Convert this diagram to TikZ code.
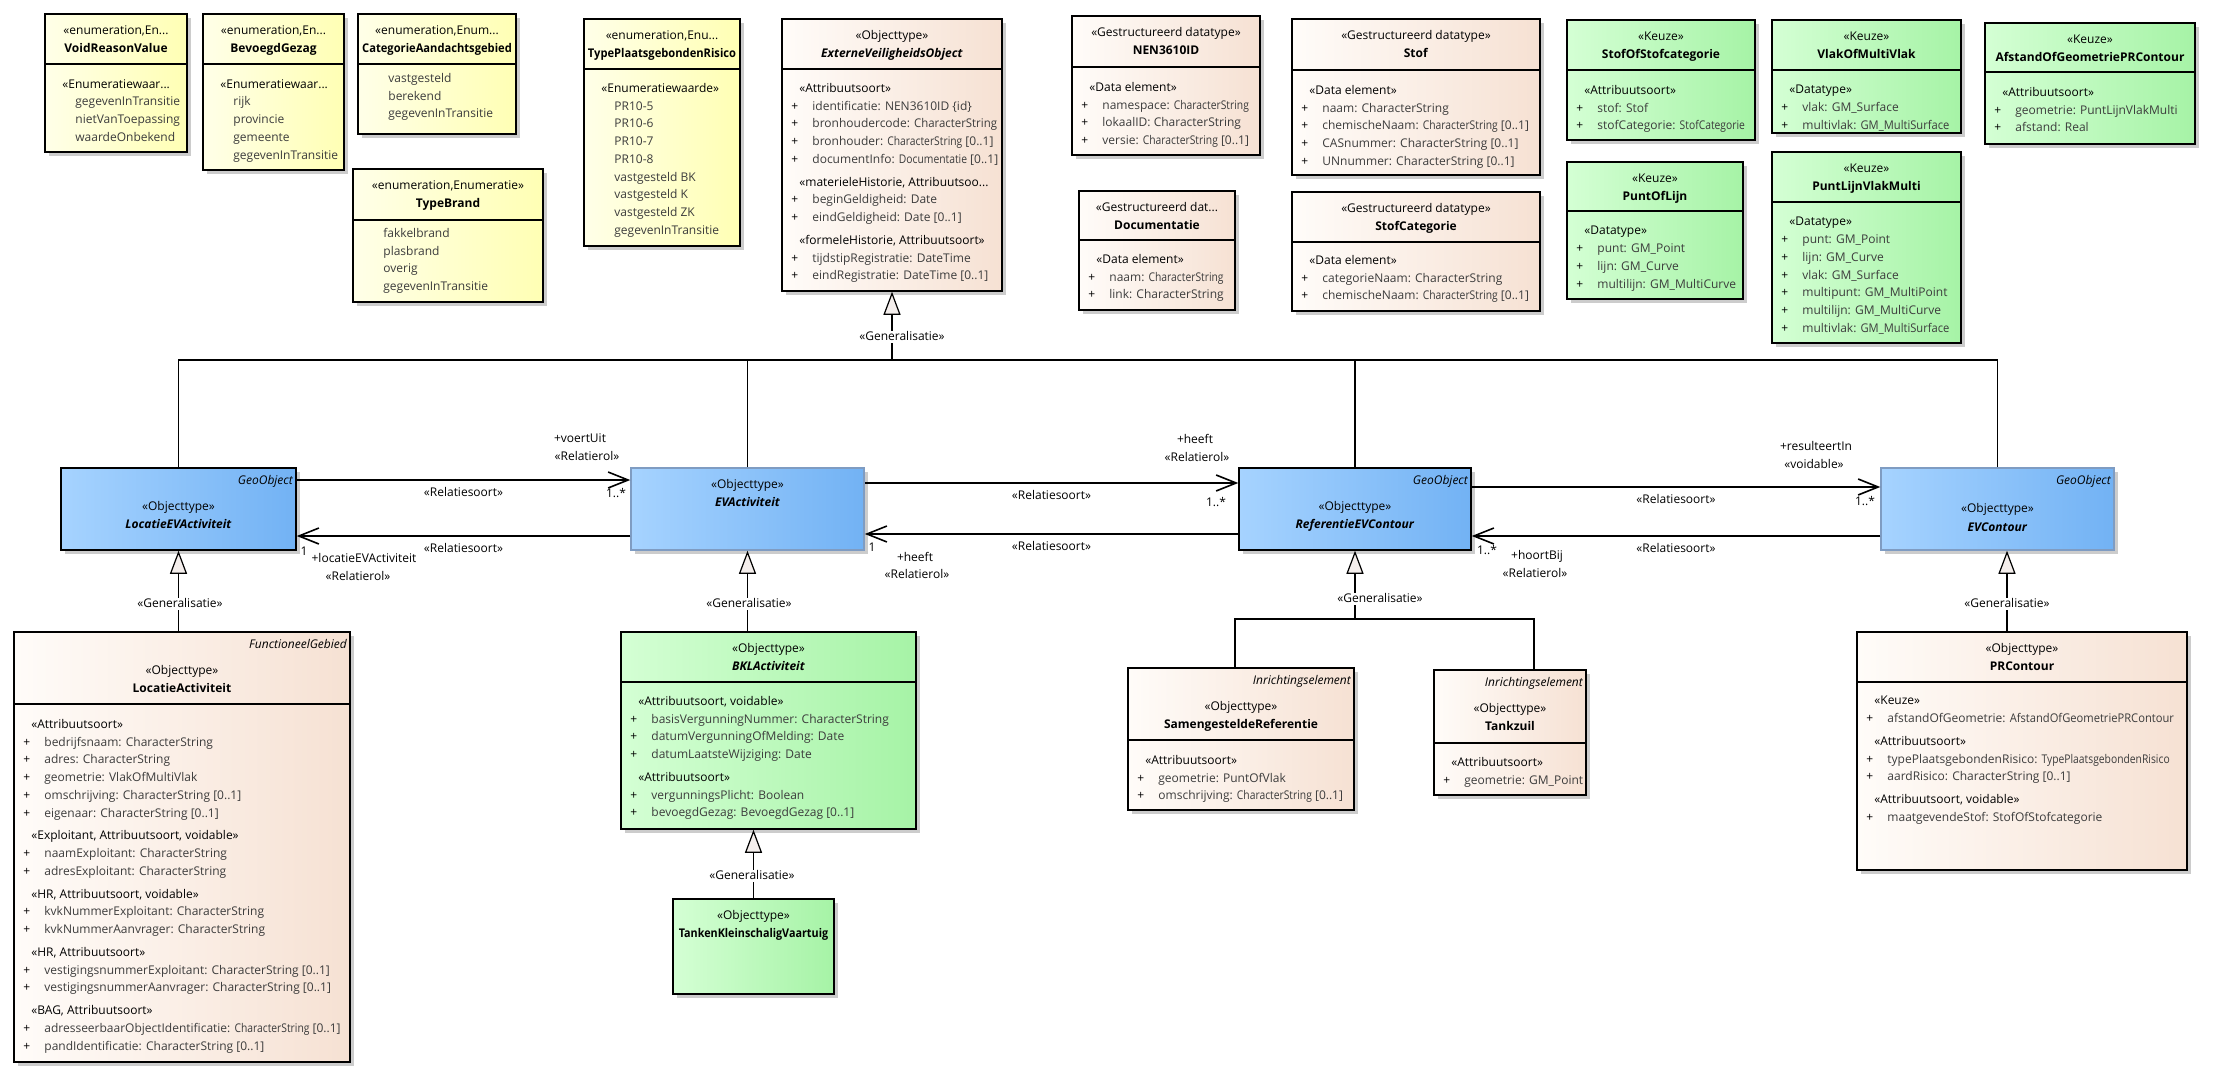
\documentclass[tikz,border=0pt]{standalone}
\usepackage{fontspec}
\setmainfont{Open Sans}
\usepackage{graphicx}
\usetikzlibrary{positioning,arrows.meta,fit,shadows}

\definecolor{enumL}{HTML}{FFFFE8}
\definecolor{enumR}{HTML}{FFFFB4}
\definecolor{creamL}{HTML}{FFFCF9}
\definecolor{creamR}{HTML}{F6E1D3}
\definecolor{greenL}{HTML}{D4FFD4}
\definecolor{greenR}{HTML}{A6F3A6}
\definecolor{blueL}{HTML}{A6D3FF}
\definecolor{blueR}{HTML}{72B2F4}
\definecolor{blueEdge}{HTML}{7F9CC2}
\definecolor{attrgrey}{HTML}{3C3C3C}
\definecolor{trifill}{HTML}{F4EEEC}

\newcommand{\tfont}{\fontsize{6}{8.85}\selectfont}
\newcommand{\pls}{\makebox[10.5pt][l]{\textcolor{black}{+}}}
\newcommand{\nopls}{\hspace*{10.5pt}}
\newcommand{\ster}[1]{\hspace*{4pt}\textcolor{black}{#1}}
\newcommand{\sq}[2][0.86]{\scalebox{#1}[1]{#2}}

\begin{document}
\begin{tikzpicture}[
  x=0.5pt, y=-0.5pt, every node/.style={font=\tfont},
  cls/.style={draw, line width=.75pt, inner sep=0pt,
    drop shadow={shadow xshift=2pt, shadow yshift=-2pt, fill=black!20, opacity=1}},
  enum/.style={cls, left color=enumL, right color=enumR},
  dtype/.style={cls, left color=creamL, right color=creamR},
  keuze/.style={cls, left color=greenL, right color=greenR},
  geo/.style={cls, left color=blueL, right color=blueR},
  sepline/.style={line width=.75pt},
  hdr/.style={inner sep=0pt, text height=4.6pt, text depth=1.2pt},
  tag/.style={hdr, font=\tfont\itshape},
  body/.style={anchor=north west, inner sep=0pt, align=left, text=attrgrey},
  lbl/.style={hdr},
  glbl/.style={hdr, fill=white, inner xsep=1pt},
  genline/.style={line width=.6pt},
  gen/.style={genline, -{Triangle[length=11.5pt, width=8.5pt, fill=trifill]}},
  assoc/.style={line width=.8pt, -{Straight Barb[length=10pt, width=8pt]}}
]
\fill[white] (0,0) rectangle (2218,1081);
\useasboundingbox (0,0) rectangle (2218,1081);

% enumeraties
\node[enum, fit={(45,14)(187,152)}] (vrv) {};
\draw[sepline] (vrv.west |- 0,64) -- (vrv.east |- 0,64);
\node[hdr, below=5.6pt of vrv.north] (vrvst) {«enumeration,En...};
\node[hdr, below=3pt of vrvst] (vrvnm) {\textbf{VoidReasonValue}};
\node[body] (vrvat) at (54,79) {\ster{«Enumeratiewaar...}\\ \nopls gegevenInTransitie\\
  \nopls nietVanToepassing\\ \nopls waardeOnbekend};

\node[enum, fit={(203,14)(344,170)}] (bg) {};
\draw[sepline] (bg.west |- 0,64) -- (bg.east |- 0,64);
\node[hdr, below=5.6pt of bg.north] (bgst) {«enumeration,En...};
\node[hdr, below=3pt of bgst] (bgnm) {\textbf{BevoegdGezag}};
\node[body] (bgat) at (212,79) {\ster{«Enumeratiewaar...}\\ \nopls rijk\\ \nopls provincie\\
  \nopls gemeente\\ \nopls gegevenInTransitie};

\node[enum, fit={(358,14)(516,134)}] (cag) {};
\draw[sepline] (cag.west |- 0,64) -- (cag.east |- 0,64);
\node[hdr, below=5.6pt of cag.north] (cagst) {«enumeration,Enum...};
\node[hdr, below=3pt of cagst] (cagnm) {\sq[0.93]{\textbf{CategorieAandachtsgebied}}};
\node[body] (cagat) at (367,73) {\nopls vastgesteld\\ \nopls berekend\\ \nopls gegevenInTransitie};

\node[enum, fit={(353,169)(543,302)}] (tb) {};
\draw[sepline] (tb.west |- 0,220) -- (tb.east |- 0,220);
\node[hdr, below=5.6pt of tb.north] (tbst) {«enumeration,Enumeratie»};
\node[hdr, below=3pt of tbst] (tbnm) {\textbf{TypeBrand}};
\node[body] (tbat) at (362,228) {\nopls fakkelbrand\\ \nopls plasbrand\\ \nopls overig\\
  \nopls gegevenInTransitie};

\node[enum, fit={(584,19)(740,246)}] (tpr) {};
\draw[sepline] (tpr.west |- 0,69) -- (tpr.east |- 0,69);
\node[hdr, below=5.6pt of tpr.north] (tprst) {«enumeration,Enu...};
\node[hdr, below=3pt of tprst] (tprnm) {\sq[0.93]{\textbf{TypePlaatsgebondenRisico}}};
\node[body] (tprat) at (593,83) {\ster{«Enumeratiewaarde»}\\ \nopls PR10-5\\ \nopls PR10-6\\
  \nopls PR10-7\\ \nopls PR10-8\\ \nopls vastgesteld BK\\ \nopls vastgesteld K\\
  \nopls vastgesteld ZK\\ \nopls gegevenInTransitie};

% objecttype bovenaan
\node[dtype, fit={(782,19)(1002,291)}] (evo) {};
\draw[sepline] (evo.west |- 0,69) -- (evo.east |- 0,69);
\node[hdr, below=5.6pt of evo.north] (evost) {«Objecttype»};
\node[hdr, below=3pt of evost] (evonm) {\textbf{\textit{ExterneVeiligheidsObject}}};
\node[body] (evoat) at (791,83) {\ster{«Attribuutsoort»}\\
  \pls identificatie: NEN3610ID \{id\}\\
  \pls bronhoudercode: \sq[0.95]{CharacterString}\\
  \pls bronhouder: \sq{CharacterString} [0..1]\\
  \pls documentInfo: \sq{Documentatie} [0..1]\\[2.6pt]
  \ster{«materieleHistorie, Attribuutsoo...}\\
  \pls beginGeldigheid: Date\\
  \pls eindGeldigheid: Date [0..1]\\[2.6pt]
  \ster{«formeleHistorie, Attribuutsoort»}\\
  \pls tijdstipRegistratie: DateTime\\
  \pls eindRegistratie: DateTime [0..1]};

% gestructureerde datatypes
\node[dtype, fit={(1072,16)(1260,155)}] (nen) {};
\draw[sepline] (nen.west |- 0,67) -- (nen.east |- 0,67);
\node[hdr, below=5.6pt of nen.north] (nenst) {«Gestructureerd datatype»};
\node[hdr, below=3pt of nenst] (nennm) {\textbf{NEN3610ID}};
\node[body] (nenat) at (1081,82) {\ster{«Data element»}\\ \pls namespace: \sq{CharacterString}\\
  \pls lokaalID: CharacterString\\ \pls versie: \sq{CharacterString} [0..1]};

\node[dtype, fit={(1292,19)(1540,175)}] (stof) {};
\draw[sepline] (stof.west |- 0,70) -- (stof.east |- 0,70);
\node[hdr, below=5.6pt of stof.north] (stofst) {«Gestructureerd datatype»};
\node[hdr, below=3pt of stofst] (stofnm) {\textbf{Stof}};
\node[body] (stofat) at (1301,85) {\ster{«Data element»}\\ \pls naam: CharacterString\\
  \pls chemischeNaam: \sq{CharacterString} [0..1]\\ \pls CASnummer: CharacterString [0..1]\\
  \pls UNnummer: CharacterString [0..1]};

\node[dtype, fit={(1079,191)(1235,310)}] (doc) {};
\draw[sepline] (doc.west |- 0,240) -- (doc.east |- 0,240);
\node[hdr, below=5.6pt of doc.north] (docst) {«Gestructureerd dat...};
\node[hdr, below=3pt of docst] (docnm) {\textbf{Documentatie}};
\node[body] (docat) at (1088,254) {\ster{«Data element»}\\ \pls naam: \sq{CharacterString}\\
  \pls link: CharacterString};

\node[dtype, fit={(1292,192)(1540,311)}] (stc) {};
\draw[sepline] (stc.west |- 0,242) -- (stc.east |- 0,242);
\node[hdr, below=5.6pt of stc.north] (stcst) {«Gestructureerd datatype»};
\node[hdr, below=3pt of stcst] (stcnm) {\textbf{StofCategorie}};
\node[body] (stcat) at (1301,255) {\ster{«Data element»}\\ \pls categorieNaam: CharacterString\\
  \pls chemischeNaam: \sq{CharacterString} [0..1]};

% keuzes
\node[keuze, fit={(1567,20)(1755,140)}] (sos) {};
\draw[sepline] (sos.west |- 0,70) -- (sos.east |- 0,70);
\node[hdr, below=5.6pt of sos.north] (sosst) {«Keuze»};
\node[hdr, below=3pt of sosst] (sosnm) {\textbf{StofOfStofcategorie}};
\node[body] (sosat) at (1576,85) {\ster{«Attribuutsoort»}\\ \pls stof: Stof\\
  \pls stofCategorie: \sq{StofCategorie}};

\node[keuze, fit={(1772,20)(1961,133)}] (vmv) {};
\draw[sepline] (vmv.west |- 0,70) -- (vmv.east |- 0,70);
\node[hdr, below=5.6pt of vmv.north] (vmvst) {«Keuze»};
\node[hdr, below=3pt of vmvst] (vmvnm) {\textbf{VlakOfMultiVlak}};
\node[body] (vmvat) at (1781,85) {\ster{«Datatype»}\\ \pls vlak: GM\_Surface\\
  \pls multivlak: \sq[0.93]{GM\_MultiSurface}};

\node[keuze, fit={(1985,23)(2195,144)}] (agp) {};
\draw[sepline] (agp.west |- 0,72) -- (agp.east |- 0,72);
\node[hdr, below=5.6pt of agp.north] (agpst) {«Keuze»};
\node[hdr, below=3pt of agpst] (agpnm) {\textbf{AfstandOfGeometriePRContour}};
\node[body] (agpat) at (1994,87) {\ster{«Attribuutsoort»}\\ \pls geometrie: PuntLijnVlakMulti\\
  \pls afstand: Real};

\node[keuze, fit={(1567,162)(1743,299)}] (pol) {};
\draw[sepline] (pol.west |- 0,211) -- (pol.east |- 0,211);
\node[hdr, below=5.6pt of pol.north] (polst) {«Keuze»};
\node[hdr, below=3pt of polst] (polnm) {\textbf{PuntOfLijn}};
\node[body] (polat) at (1576,226) {\ster{«Datatype»}\\ \pls punt: GM\_Point\\
  \pls lijn: GM\_Curve\\ \pls multilijn: GM\_MultiCurve};

\node[keuze, fit={(1772,152)(1961,343)}] (plvm) {};
\draw[sepline] (plvm.west |- 0,202) -- (plvm.east |- 0,202);
\node[hdr, below=5.6pt of plvm.north] (plvmst) {«Keuze»};
\node[hdr, below=3pt of plvmst] (plvmnm) {\textbf{PuntLijnVlakMulti}};
\node[body] (plvmat) at (1781,217) {\ster{«Datatype»}\\ \pls punt: GM\_Point\\
  \pls lijn: GM\_Curve\\ \pls vlak: GM\_Surface\\ \pls multipunt: GM\_MultiPoint\\
  \pls multilijn: GM\_MultiCurve\\ \pls multivlak: \sq[0.93]{GM\_MultiSurface}};

% middelste rij
\node[geo, fit={(61,468)(296,550)}] (lev) {};
\node[tag, below left=3.6pt and 1.75pt of lev.north east] (levtg) {GeoObject};
\node[hdr, below=16.6pt of lev.north] (levst) {«Objecttype»};
\node[hdr, below=3pt of levst] (levnm) {\textbf{\textit{LocatieEVActiviteit}}};

\node[geo, draw=blueEdge, fit={(631,468)(864,550)}] (eva) {};
\node[hdr, below=5.6pt of eva.north] (evast) {«Objecttype»};
\node[hdr, below=3pt of evast] (evanm) {\textbf{\textit{EVActiviteit}}};

\node[geo, fit={(1239,468)(1471,550)}] (rec) {};
\node[tag, below left=3.6pt and 1.75pt of rec.north east] (rectg) {GeoObject};
\node[hdr, below=16.6pt of rec.north] (recst) {«Objecttype»};
\node[hdr, below=3pt of recst] (recnm) {\textbf{\textit{ReferentieEVContour}}};

\node[geo, draw=blueEdge, fit={(1881,468)(2114,550)}] (evc) {};
\node[tag, below left=3.6pt and 1.75pt of evc.north east] (evctg) {GeoObject};
\node[hdr, below=17.6pt of evc.north] (evcst) {«Objecttype»};
\node[hdr, below=3.6pt of evcst] (evcnm) {\textbf{\textit{EVContour}}};

% onderste rij
\node[dtype, fit={(14,632)(350,1062)}] (la) {};
\draw[sepline] (la.west |- 0,704) -- (la.east |- 0,704);
\node[tag, below left=3.6pt and 1.75pt of la.north east] (latg) {FunctioneelGebied};
\node[hdr, below=16.6pt of la.north] (last) {«Objecttype»};
\node[hdr, below=3pt of last] (lanm) {\textbf{LocatieActiviteit}};
\node[body] (laat) at (23,719) {\ster{«Attribuutsoort»}\\
  \pls bedrijfsnaam: CharacterString\\
  \pls adres: CharacterString\\
  \pls geometrie: VlakOfMultiVlak\\
  \pls omschrijving: CharacterString [0..1]\\
  \pls eigenaar: CharacterString [0..1]\\[2.6pt]
  \ster{«Exploitant, Attribuutsoort, voidable»}\\
  \pls naamExploitant: CharacterString\\
  \pls adresExploitant: CharacterString\\[2.6pt]
  \ster{«HR, Attribuutsoort, voidable»}\\
  \pls kvkNummerExploitant: CharacterString\\
  \pls kvkNummerAanvrager: CharacterString\\[2.6pt]
  \ster{«HR, Attribuutsoort»}\\
  \pls vestigingsnummerExploitant: CharacterString [0..1]\\
  \pls vestigingsnummerAanvrager: CharacterString [0..1]\\[2.6pt]
  \ster{«BAG, Attribuutsoort»}\\
  \pls adresseerbaarObjectIdentificatie: \sq{CharacterString} [0..1]\\
  \pls pandIdentificatie: CharacterString [0..1]};

\node[keuze, fit={(621,632)(916,829)}] (bkl) {};
\draw[sepline] (bkl.west |- 0,682) -- (bkl.east |- 0,682);
\node[hdr, below=5.6pt of bkl.north] (bklst) {«Objecttype»};
\node[hdr, below=3pt of bklst] (bklnm) {\textbf{\textit{BKLActiviteit}}};
\node[body] (bklat) at (630,696) {\ster{«Attribuutsoort, voidable»}\\
  \pls basisVergunningNummer: CharacterString\\
  \pls datumVergunningOfMelding: Date\\
  \pls datumLaatsteWijziging: Date\\[2.6pt]
  \ster{«Attribuutsoort»}\\
  \pls vergunningsPlicht: Boolean\\
  \pls bevoegdGezag: BevoegdGezag [0..1]};

\node[keuze, fit={(673,899)(834,994)}] (tkv) {};
\node[hdr, below=5.6pt of tkv.north] (tkvst) {«Objecttype»};
\node[hdr, below=3pt of tkvst] (tkvnm) {\sq[0.9]{\textbf{TankenKleinschaligVaartuig}}};

\node[dtype, fit={(1128,668)(1354,810)}] (sr) {};
\draw[sepline] (sr.west |- 0,740) -- (sr.east |- 0,740);
\node[tag, below left=3.6pt and 1.75pt of sr.north east] (srtg) {Inrichtingselement};
\node[hdr, below=16.6pt of sr.north] (srst) {«Objecttype»};
\node[hdr, below=3pt of srst] (srnm) {\textbf{SamengesteldeReferentie}};
\node[body] (srat) at (1137,755) {\ster{«Attribuutsoort»}\\ \pls geometrie: PuntOfVlak\\
  \pls omschrijving: \sq{CharacterString} [0..1]};

\node[dtype, fit={(1434,670)(1586,795)}] (tz) {};
\draw[sepline] (tz.west |- 0,743) -- (tz.east |- 0,743);
\node[tag, below left=3.6pt and 1.75pt of tz.north east] (tztg) {Inrichtingselement};
\node[hdr, below=16.6pt of tz.north] (tzst) {«Objecttype»};
\node[hdr, below=3pt of tzst] (tznm) {\textbf{Tankzuil}};
\node[body] (tzat) at (1443,757) {\ster{«Attribuutsoort»}\\ \pls geometrie: GM\_Point};

\node[dtype, fit={(1857,632)(2187,870)}] (prc) {};
\draw[sepline] (prc.west |- 0,682) -- (prc.east |- 0,682);
\node[hdr, below=5.6pt of prc.north] (prcst) {«Objecttype»};
\node[hdr, below=3pt of prcst] (prcnm) {\textbf{PRContour}};
\node[body] (prcat) at (1866,696) {\ster{«Keuze»}\\
  \pls afstandOfGeometrie: \sq[0.93]{AfstandOfGeometriePRContour}\\[2.6pt]
  \ster{«Attribuutsoort»}\\
  \pls typePlaatsgebondenRisico: \sq{TypePlaatsgebondenRisico}\\
  \pls aardRisico: CharacterString [0..1]\\[2.6pt]
  \ster{«Attribuutsoort, voidable»}\\
  \pls maatgevendeStof: StofOfStofcategorie};

% generalisaties
\coordinate (evobus) at (892,360);
\draw[genline] (lev.north) |- (evobus);
\draw[genline] (eva.north) |- (evobus);
\draw[genline] (rec.north) |- (evobus);
\draw[genline] (evc.north) |- (evobus);
\draw[gen] (evobus) -- (evo.south);
\draw[gen] (lev.south |- la.north) -- (lev.south);
\draw[gen] (eva.south |- bkl.north) -- (eva.south);
\draw[gen] (tkv.north) -- (tkv.north |- bkl.south);
\coordinate (recbus) at (1355,619);
\draw[genline] ([xshift=-3pt]sr.north) |- (recbus);
\draw[genline] ([xshift=12pt]tz.north) |- (recbus);
\draw[gen] (recbus) -- (rec.south);
\coordinate (prctop) at ([xshift=-7.5pt]prc.north);
\draw[gen] (prctop) -- (prctop |- evc.south);
\node[glbl] (g1) at (902,337) {«Generalisatie»};
\node[glbl] (g2) at (180,604) {«Generalisatie»};
\node[glbl] (g3) at (749,604) {«Generalisatie»};
\node[glbl] (g4) at (752,876) {«Generalisatie»};
\node[glbl] (g5) at (1380,599) {«Generalisatie»};
\node[glbl] (g6) at (2007,604) {«Generalisatie»};

% relaties
\draw[assoc] ([yshift=14.5pt]lev.east) -- ([yshift=14.5pt]eva.west)
  node[lbl, midway, yshift=-6.5pt] (a1rs) {«Relatiesoort»};
\node[lbl] (a1rl) at (580,439) {+voertUit};
\node[lbl] (a1st) at (587,457) {«Relatierol»};
\node[lbl] (a1m) at (616,494) {1..*};

\draw[assoc] ([yshift=-13.5pt]eva.west) -- ([yshift=-13.5pt]lev.east)
  node[lbl, midway, yshift=-6.5pt] (a2rs) {«Relatiesoort»};
\node[lbl] (a2m) at (304,552) {1};
\node[lbl] (a2rl) at (364,559) {+locatieEVActiviteit};
\node[lbl] (a2st) at (358,577) {«Relatierol»};

\draw[assoc] ([yshift=13pt]eva.east) -- ([yshift=13pt]rec.west)
  node[lbl, midway, yshift=-6.5pt] (a3rs) {«Relatiesoort»};
\node[lbl] (a3rl) at (1195,440) {+heeft};
\node[lbl] (a3st) at (1197,458) {«Relatierol»};
\node[lbl] (a3m) at (1216,503) {1..*};

\draw[assoc] ([yshift=-12.5pt]rec.west) -- ([yshift=-12.5pt]eva.east)
  node[lbl, midway, yshift=-6.5pt] (a4rs) {«Relatiesoort»};
\node[lbl] (a4m) at (872,548) {1};
\node[lbl] (a4rl) at (915,558) {+heeft};
\node[lbl] (a4st) at (917,575) {«Relatierol»};

\draw[assoc] ([yshift=11pt]rec.east) -- ([yshift=11pt]evc.west)
  node[lbl, midway, yshift=-6.5pt] (a5rs) {«Relatiesoort»};
\node[lbl] (a5rl) at (1816,447) {+resulteertIn};
\node[lbl] (a5st) at (1814,465) {«voidable»};
\node[lbl] (a5m) at (1865,502) {1..*};

\draw[assoc] ([yshift=-13.5pt]evc.west) -- ([yshift=-13.5pt]rec.east)
  node[lbl, midway, yshift=-6.5pt] (a6rs) {«Relatiesoort»};
\node[lbl] (a6m) at (1487,551) {1..*};
\node[lbl] (a6rl) at (1537,556) {+hoortBij};
\node[lbl] (a6st) at (1535,574) {«Relatierol»};
\end{tikzpicture}
\end{document}
